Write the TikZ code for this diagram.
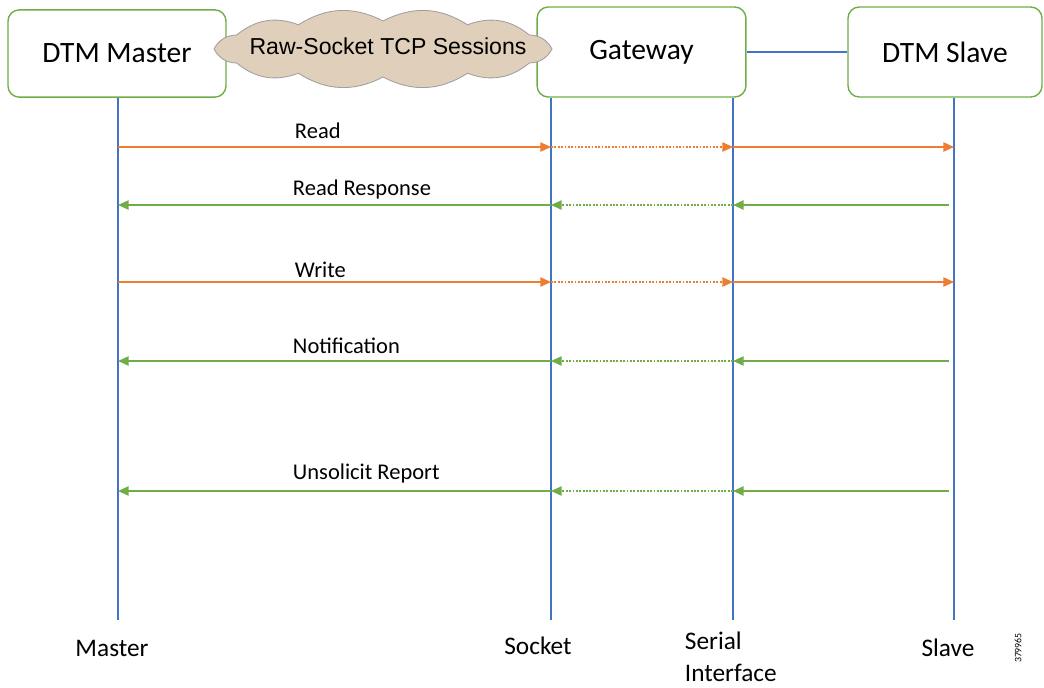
\documentclass[tikz,border=0pt]{standalone}
\usepackage{fontspec}
\setmainfont{Carlito}
\newfontfamily\cloudfont{Liberation Sans}
\usetikzlibrary{arrows.meta}

\definecolor{reqorange}{HTML}{ED7D31}
\definecolor{respgreen}{HTML}{70AD47}
\definecolor{lifeblue}{HTML}{4472C4}
\definecolor{cloudtan}{HTML}{E0CFBB}

\begin{document}
\begin{tikzpicture}[x=0.025cm,y=-0.025cm,>={Triangle[length=7.5pt,width=6.5pt]},
  actor/.style={draw=respgreen,line width=1pt,rounded corners=8pt,fill=white,
    font=\fontsize{21}{25}\selectfont},
  life/.style={draw=lifeblue,line width=1.2pt},
  req/.style={draw=reqorange,line width=1.2pt,->},
  resp/.style={draw=respgreen,line width=1.2pt,->},
  dots/.style={dash pattern=on 1.3pt off 1.1pt},
  msglabel/.style={font=\fontsize{16}{19}\selectfont,anchor=west},
  endlabel/.style={font=\fontsize{18}{22.8}\selectfont}]
\useasboundingbox (0,0) rectangle (1044,687);

% participants
\node[actor,minimum width=5.45cm,minimum height=2.18cm] (master) at (117,53.5) {DTM Master};
\node[actor,minimum width=5.22cm,minimum height=2.25cm] (gateway) at (641.5,52) {\raisebox{-2pt}{Gateway}};
\node[actor,minimum width=4.85cm,minimum height=2.25cm] (slave) at (945,52) {DTM Slave};
\draw[life] (gateway.east) -- (slave.west);
% cloud outline
\coordinate (cloudC) at (383,49);
\filldraw[fill=cloudtan,draw=gray!75,line width=0.6pt,shift={(cloudC)}]
  (180:169 and 28) \foreach \a in {210,240,...,540}{ to[bend left=30] (\a:169 and 28) } -- cycle;
\node[font=\cloudfont\fontsize{16.4}{19}\selectfont] (tcp) at (388,46) {Raw-Socket TCP Sessions};

% lifelines
\coordinate (mL) at (118,620);
\coordinate (sL) at (551,620);
\coordinate (iL) at (733,620);
\coordinate (vL) at (954,620);
\draw[life] (mL |- master.south) -- (mL);
\draw[life] (sL |- gateway.south) -- (sL);
\draw[life] (iL |- gateway.south) -- (iL);
\draw[life] (vL |- slave.south) -- (vL);

% requests
\foreach \y/\ly/\txt in {147/131/Read,282/270/Write}{
  \coordinate (row) at (0,\y);
  \draw[req] (mL |- row) -- (sL |- row);
  \draw[req,dots] (sL |- row) -- (iL |- row);
  \draw[req] (iL |- row) -- (vL |- row);
  \node[msglabel] (lab\y) at (290,\ly) {\txt};
}
% responses
\foreach \y/\ly/\txt in {205/189/Read Response,361/346/Notification,491/473/Unsolicit Report}{
  \coordinate (row) at (949,\y);
  \draw[resp] (row) -- (iL |- row);
  \draw[resp,dots] (iL |- row) -- (sL |- row);
  \draw[resp] (sL |- row) -- (mL |- row);
  \node[msglabel] (lab\y) at (288,\ly) {\txt};
}

% endpoints
\node[endlabel] (mName) at (112,648) {Master};
\node[endlabel] (sName) at (538,646) {Socket};
\node[endlabel,align=left,anchor=west] (iName) at (680,657) {Serial\\Interface};
\node[endlabel] (vName) at (948,648) {Slave};
\node[rotate=90,font=\fontsize{7}{8}\selectfont] (figno) at (1018,648) {379965};
\end{tikzpicture}
\end{document}
